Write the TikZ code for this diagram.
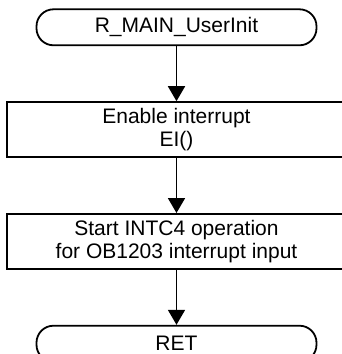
\documentclass[tikz,border=0pt]{standalone}
\usepackage{fontspec}
\setmainfont{Liberation Sans}
\usetikzlibrary{arrows.meta, positioning}

\begin{document}
\begin{tikzpicture}[
			node distance=55pt,
			every node/.style={draw, line width=1.8pt, align=center, font=\fontsize{21}{23.5}\selectfont},
			terminal/.style={rectangle, rounded corners=17pt, minimum width=280pt, minimum height=36pt},
			process/.style={rectangle, minimum width=339pt, minimum height=55pt},
			arrow/.style={-{Triangle[length=15pt,width=17pt]}, line width=1.8pt}
			]
			\useasboundingbox (-176.5pt,27.3pt) rectangle (165.5pt,-326.7pt);
			
			% Nodes
			\node (init) [terminal] {R\_MAIN\_UserInit};
			\node (enable_ei) [process, below=of init] {Enable interrupt\\EI()};
			\node (start_intc) [process, below=of enable_ei] {Start INTC4 operation\\for OB1203 interrupt input};
			\node (ret) [terminal, below=of start_intc] {RET};
			
			% Connections
			\draw [arrow] (init) -- (enable_ei);
			\draw [arrow] (enable_ei) -- (start_intc);
			\draw [arrow] (start_intc) -- (ret);
			
		\end{tikzpicture}
\end{document}
